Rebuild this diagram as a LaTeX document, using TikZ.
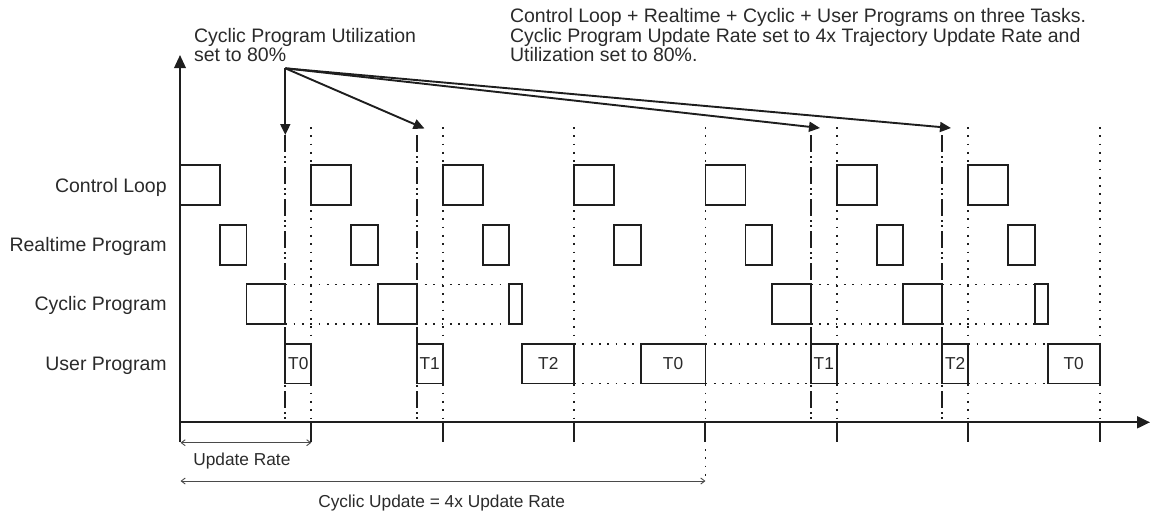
\documentclass[tikz,border=0pt]{standalone}
\usepackage{fontspec}
\setmainfont{Liberation Sans}
\usetikzlibrary{arrows.meta}
\definecolor{ink}{HTML}{1E1E1E}
\definecolor{txt}{HTML}{2A2A2A}
\definecolor{dimc}{HTML}{4A4A4A}
\begin{document}
\begin{tikzpicture}[x=1pt,y=-1pt,
  box/.style={draw=ink, line width=1.9pt, inner sep=0pt, outer sep=0pt, anchor=north west},
  rowlbl/.style={text=txt, font=\fontsize{19.5}{19.5}\selectfont, inner sep=0pt, outer sep=0pt, anchor=base east},
  note/.style={text=txt, font=\fontsize{19.5}{19.5}\selectfont, inner sep=0pt, outer sep=0pt, anchor=north west, align=left},
  small/.style={text=txt, font=\fontsize{17.3}{17.3}\selectfont, inner sep=0pt, outer sep=0pt},
  dotline/.style={draw=ink, line width=1.8pt, dash pattern=on 1.8pt off 6.5pt},
  dashdotline/.style={draw=ink, line width=1.9pt, dash pattern=on 17pt off 4pt on 2pt off 3pt on 2pt off 4pt},
  axis/.style={draw=ink, line width=2pt},
  tick/.style={draw=ink, line width=2pt},
  callout/.style={draw=ink, line width=1.9pt, -{Triangle[length=11pt,width=10pt]}},
  dimarrow/.style={draw=dimc, line width=0.9pt, {Straight Barb[length=4pt,width=6pt]}-{Straight Barb[length=4pt,width=6pt]}}
]
\useasboundingbox (0,0) rectangle (1151,512);

% row labels
\node[rowlbl] (lcl) at (166.7,192.7) {Control Loop};
\node[rowlbl] (lrt) at (166.7,251.7) {Realtime Program};
\node[rowlbl] (lcy) at (166.7,310.7) {Cyclic Program};
\node[rowlbl] (lus) at (166.7,370.7) {User Program};

% vertical dotted guide lines at period boundaries
\foreach \k in {1,...,7}{
  \pgfmathsetmacro\xa{180+\k*131.37}
  \draw[dotline] (\xa,127) -- (\xa,421);
}
% dash-dot lines (end of cyclic slot)
\foreach \k in {0,1,4,5}{
  \pgfmathsetmacro\xa{180+\k*131.37+105.3}
  \draw[dashdotline] (\xa,135) -- (\xa,421.3);
}

% control loop and realtime boxes
\foreach \k in {0,...,6}{
  \pgfmathsetmacro\xa{180+\k*131.37}
  \pgfmathsetmacro\xb{180+\k*131.37+40}
  \node[box, minimum width=40pt, minimum height=40pt] (cl\k) at (\xa,165) {};
  \node[box, minimum width=26.5pt, minimum height=40pt] (rt\k) at (\xb,225) {};
}

% cyclic program boxes
\foreach \k/\w in {0/38.8,1/38.8,2/13.2,4/38.8,5/38.8,6/13.2}{
  \pgfmathsetmacro\xa{180+\k*131.37+66.5}
  \node[box, minimum width=\w pt, minimum height=39.7pt] (cy\k) at (\xa,284.4) {};
}
\foreach \a/\b in {0/1,1/2,4/5,5/6}{
  \draw[dotline] (cy\a.north east) -- (cy\b.north west);
  \draw[dotline] (cy\a.south east) -- (cy\b.south west);
}

% user program boxes
\foreach \i/\a/\b/\t in {0/285.3/311.37/T0, 1/416.67/442.74/T1, 2/522.44/574.11/T2, 3/640.61/705.48/T0, 4/810.78/836.85/T1, 5/942.15/968.22/T2, 6/1047.92/1099.59/T0}{
  \pgfmathsetmacro\w{\b-\a}
  \node[box, small, anchor=north west, minimum width=\w pt, minimum height=39.5pt] (us\i) at (\a,344) {\t};
}
\foreach \a/\b in {2/3,3/4,4/5,5/6}{
  \draw[dotline] (us\a.north east) -- (us\b.north west);
  \draw[dotline] (us\a.south east) -- (us\b.south west);
}

% axes
\coordinate (o) at (180,422.3);
\coordinate (ybot) at (180,442);
\coordinate (ytop) at (180,55);
\coordinate (xend) at (1150,422.3);
\draw[axis, -{Triangle[length=13pt,width=11.5pt]}] (ybot) -- (ytop);
\draw[axis, -{Triangle[length=13pt,width=12pt]}] (o) -- (xend);
\foreach \k in {1,...,7}{
  \pgfmathsetmacro\xa{180+\k*131.37}
  \draw[tick] (\xa,422.3) -- (\xa,441.7);
}
\draw[dotline] (705.48,449) -- (705.48,481);

% dimension arrows
\coordinate (d1a) at (180.5,442.7);
\coordinate (d1b) at (311.37,442.7);
\draw[dimarrow] (d1a) -- (d1b);
\node[small, anchor=base west] (upd) at (193.3,465.7) {Update Rate};
\coordinate (d2a) at (180.5,481);
\coordinate (d2b) at (705.48,481);
\draw[dimarrow] (d2a) -- (d2b);
\node[small, anchor=base west] (cupd) at (318.3,507.3) {Cyclic Update = 4x Update Rate};

% annotations
\node[note] (n1) at (194,28.3) {Cyclic Program Utilization\\set to 80\%};
\node[note] (n2) at (510,8.7) {Control Loop + Realtime + Cyclic + User Programs on three Tasks.\\Cyclic Program Update Rate set to 4x Trajectory Update Rate and\\Utilization set to 80\%.};

\coordinate (src) at (285.3,68.3);
\coordinate (t1) at (285.3,135);
\coordinate (t2) at (424.5,128.5);
\coordinate (t3) at (820,128);
\coordinate (t4) at (951,128);
\draw[callout] (src) -- (t1);
\draw[callout] (src) -- (t2);
\draw[callout] (src) -- (t3);
\draw[callout] (src) -- (t4);
\end{tikzpicture}
\end{document}
